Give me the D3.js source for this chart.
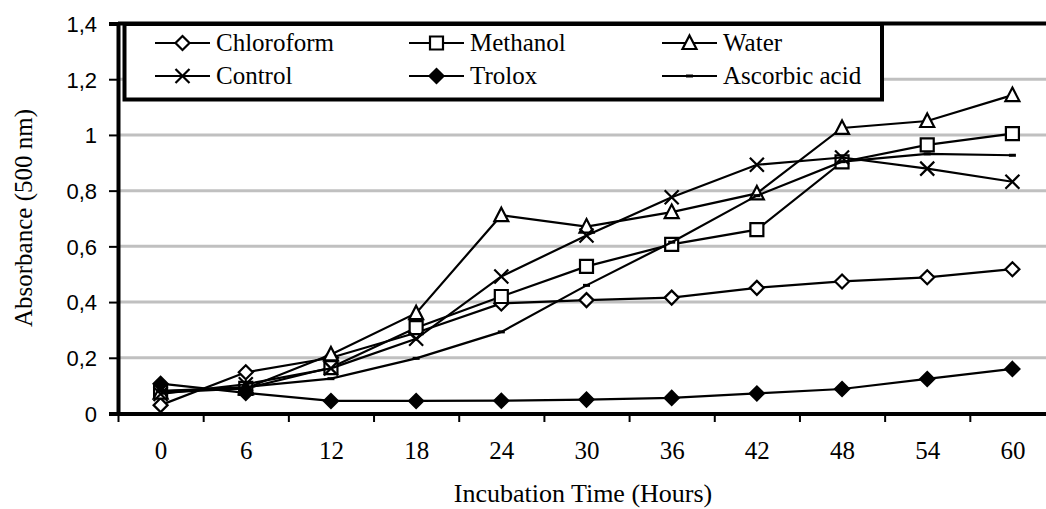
<!DOCTYPE html>
<html lang="en">
<head>
    <title>Absorbance vs incubation time</title>
    <script src="https://d3js.org/d3.v7.min.js"></script>
    <style>
        body { margin: 0; background: #fff; }
        svg text { fill: #000; }
    </style>
</head>
<body>
    <svg id="chart"></svg>

    <script>
        var hours = ["0", "6", "12", "18", "24", "30", "36", "42", "48", "54", "60"];
        var yTicks = [0, 0.2, 0.4, 0.6, 0.8, 1, 1.2, 1.4];

        var chloroform = [0.03, 0.148, 0.2, 0.29, 0.395, 0.407, 0.416, 0.451, 0.474, 0.489, 0.518];
        var methanol   = [0.08, 0.09, 0.165, 0.308, 0.42, 0.528, 0.607, 0.66, 0.903, 0.964, 1.005];
        var water      = [0.075, 0.09, 0.212, 0.36, 0.712, 0.671, 0.723, 0.79, 1.025, 1.05, 1.143];
        var control    = [0.07, 0.105, 0.162, 0.268, 0.492, 0.639, 0.776, 0.893, 0.919, 0.879, 0.832];
        var trolox     = [0.107, 0.074, 0.045, 0.045, 0.046, 0.05, 0.056, 0.072, 0.088, 0.124, 0.16];
        var ascorbic   = [0.08, 0.095, 0.125, 0.198, 0.293, 0.46, 0.615, 0.782, 0.904, 0.932, 0.927];

        var names = ["Chloroform", "Methanol", "Water", "Control", "Trolox", "Ascorbic acid"];
        var seriesValues = [chloroform, methanol, water, control, trolox, ascorbic];
        var markers = ["diamond", "square", "triangle", "cross", "filledDiamond", "dash"];

        var SERIF = "'Liberation Serif', 'Times New Roman', serif";
        var SANS = "'Liberation Sans', Arial, sans-serif";

        var width = 1046;
        var height = 509;
        var plot = { left: 118, right: 1055, top: 24, bottom: 414 };

        var svg = d3.select("#chart")
            .attr("width", width)
            .attr("height", height);

        var x = d3.scalePoint()
            .domain(hours)
            .range([plot.left, plot.right])
            .padding(0.5);
        var xEdges = d3.scaleLinear()
            .domain([0, hours.length])
            .range([plot.left, plot.right]);
        var y = d3.scaleLinear()
            .domain([0, 1.4])
            .range([413.5, 23.5]);

        // gridlines
        svg.append("g")
            .selectAll("line")
            .data(yTicks.filter(function (d) { return d > 0 && d < 1.4; }))
            .enter()
            .append("line")
            .attr("x1", plot.left)
            .attr("x2", width)
            .attr("y1", function (d) { return y(d); })
            .attr("y2", function (d) { return y(d); })
            .attr("stroke", "#c0c0c0")
            .attr("stroke-width", 3);

        // plot area top border
        svg.append("line")
            .attr("x1", plot.left)
            .attr("x2", width)
            .attr("y1", y(1.4))
            .attr("y2", y(1.4))
            .attr("stroke", "#000")
            .attr("stroke-width", 4);

        // y axis
        var yaxis = d3.axisLeft(y)
            .tickValues(yTicks)
            .tickSize(9)
            .tickPadding(12)
            .tickFormat(function (d) { return d3.format("~g")(d).replace(".", ","); });
        var gy = svg.append("g")
            .attr("transform", "translate(" + plot.left + ",0)")
            .call(yaxis);
        gy.attr("font-family", SANS).attr("font-size", 22);
        gy.select(".domain").attr("stroke-width", 4);
        gy.selectAll(".tick line").attr("stroke-width", 2);
        gy.selectAll("text").attr("dy", "0.36em");

        // x axis: ticks on category edges, labels in the middle
        var xaxis = d3.axisBottom(xEdges)
            .tickValues(d3.range(0, hours.length + 1))
            .tickSize(8)
            .tickFormat("");
        var gx = svg.append("g")
            .attr("transform", "translate(0," + plot.bottom + ")")
            .call(xaxis);
        gx.select(".domain").attr("stroke-width", 4).attr("d", "M" + (plot.left - 2) + ",0H" + plot.right);
        gx.selectAll(".tick line").attr("stroke-width", 2);

        var xlabels = d3.axisBottom(x).tickSize(0).tickPadding(27);
        var gxl = svg.append("g")
            .attr("transform", "translate(0," + plot.bottom + ")")
            .call(xlabels);
        gxl.attr("font-family", SERIF).attr("font-size", 25);
        gxl.select(".domain").remove();

        // axis titles
        svg.append("text")
            .attr("font-family", SERIF)
            .attr("font-size", 26)
            .attr("x", 583)
            .attr("y", 502)
            .attr("text-anchor", "middle")
            .text("Incubation Time (Hours)");
        svg.append("text")
            .attr("font-family", SERIF)
            .attr("font-size", 25)
            .attr("transform", "translate(32,218) rotate(-90)")
            .attr("text-anchor", "middle")
            .text("Absorbance (500 nm)");

        function markerPath(type) {
            if (type === "diamond" || type === "filledDiamond") return "M0,-7L7,0L0,7L-7,0Z";
            if (type === "square") return "M-6.5,-6.5H6.5V6.5H-6.5Z";
            if (type === "triangle") return "M0,-7.5L7,6H-7Z";
            if (type === "cross") return "M-7,-7L7,7M7,-7L-7,7";
            return "M-3.5,-1.5H3.5V1.5H-3.5Z";
        }
        function markerFill(type) {
            if (type === "filledDiamond" || type === "dash") return "#000";
            if (type === "cross") return "none";
            return "#fff";
        }

        var line = d3.line()
            .x(function (d, i) { return x(hours[i]); })
            .y(function (d) { return y(d); });

        seriesValues.forEach(function (vals, s) {
            var g = svg.append("g");
            g.append("path")
                .attr("d", line(vals))
                .attr("fill", "none")
                .attr("stroke", "#000")
                .attr("stroke-width", 2.2);
            g.selectAll("path.m")
                .data(vals)
                .enter()
                .append("path")
                .attr("class", "m")
                .attr("transform", function (d, i) { return "translate(" + x(hours[i]) + "," + y(d) + ")"; })
                .attr("d", markerPath(markers[s]))
                .attr("fill", markerFill(markers[s]))
                .attr("stroke", "#000")
                .attr("stroke-width", markers[s] === "dash" ? 0 : 2.2);
        });

        // legend
        var legend = svg.append("g");
        legend.append("rect")
            .attr("x", 124.5)
            .attr("y", 24)
            .attr("width", 757.5)
            .attr("height", 75.5)
            .attr("fill", "#fff")
            .attr("stroke", "#000")
            .attr("stroke-width", 4);
        var colX = [155, 409, 662];
        var rowY = [43, 76];
        names.forEach(function (name, i) {
            var lx = colX[i % 3];
            var ly = rowY[Math.floor(i / 3)];
            var item = legend.append("g").attr("transform", "translate(" + lx + "," + ly + ")");
            item.append("line")
                .attr("x1", 0).attr("x2", 55)
                .attr("stroke", "#000").attr("stroke-width", 2.2);
            item.append("path")
                .attr("transform", "translate(27.5,0)")
                .attr("d", markerPath(markers[i]))
                .attr("fill", markerFill(markers[i]))
                .attr("stroke", "#000")
                .attr("stroke-width", markers[i] === "dash" ? 0 : 2.2);
            item.append("text")
                .attr("font-family", SERIF)
                .attr("font-size", 25)
                .attr("x", 61)
                .attr("dy", "0.33em")
                .text(name);
        });
    </script>
</body>
</html>
